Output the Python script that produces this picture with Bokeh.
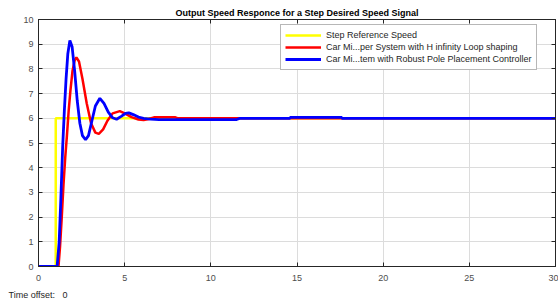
from bokeh.plotting import figure
from bokeh.models import LinearAxis, Range1d, Title, FixedTicker, Legend, LegendItem
from bokeh.embed import file_html
from bokeh.resources import INLINE

# Step reference
ref_t = [0, 1.0, 1.0, 30]
ref_y = [0, 0, 6, 6]

# H-infinity loop shaping response (red)
hinf_t = [0, 1.16, 1.25, 1.35, 1.45, 1.55, 1.65, 1.75, 1.85, 1.97, 2.1, 2.2, 2.35, 2.55, 2.8, 3.05,
          3.3, 3.5, 3.75, 4.0, 4.3, 4.72, 5.0, 5.4, 5.8, 6.1, 6.4, 6.7, 7.95, 8.1, 17.6, 30]
hinf_y = [0, 0, 0.8, 2.0, 3.3, 4.4, 5.3, 6.3, 7.1, 7.9, 8.35, 8.47, 8.3, 7.6, 6.6, 5.8,
          5.42, 5.37, 5.55, 5.9, 6.2, 6.29, 6.2, 6.05, 5.95, 5.93, 5.97, 6.04, 6.04, 6.0, 6.0, 6.0]

# Robust pole placement response (blue)
rpp_t = [0, 1.08, 1.2, 1.3, 1.4, 1.5, 1.6, 1.7, 1.82, 1.95, 2.1, 2.25, 2.4, 2.55, 2.73, 2.9, 3.1,
         3.3, 3.56, 3.8, 4.05, 4.3, 4.53, 4.8, 5.05, 5.24, 5.5, 5.8, 6.1, 6.5, 7.0, 11.5, 11.7,
         14.6, 14.6, 17.6, 17.6, 30]
rpp_y = [0, 0, 1.0, 2.8, 4.8, 6.3, 7.6, 8.6, 9.15, 8.9, 7.9, 6.7, 5.8, 5.3, 5.13, 5.3, 5.9,
         6.5, 6.81, 6.6, 6.25, 6.02, 5.96, 6.08, 6.2, 6.22, 6.15, 6.05, 6.0, 5.97, 5.95, 5.95, 6.0,
         6.0, 6.04, 6.04, 6.0, 6.0]

x_ticks = [0, 5, 10, 15, 20, 25, 30]
y_ticks = [0, 1, 2, 3, 4, 5, 6, 7, 8, 9, 10]

title_text = "Output Speed Responce for a Step Desired Speed Signal"
labels = ["Step Reference Speed",
          "Car Mi...per System with H infinity Loop shaping",
          "Car Mi...tem with Robust Pole Placement Controller"]
footer_text = "Time offset:\u00a0\u00a0\u00a00"

FONT = "Liberation Sans"
AXC = "#262626"
TXC = "#4d4d4d"

p = figure(width=558, height=305, output_backend="svg", toolbar_location=None,
           x_range=Range1d(0, 30), y_range=Range1d(0, 10),
           min_border_left=38, min_border_right=3, min_border_top=19, min_border_bottom=39)

p.title.text = title_text
p.title.text_font = FONT
p.title.text_font_size = "9px"
p.title.text_font_style = "bold"
p.title.align = "center"
p.title.standoff = 4
p.title.text_color = "#000000"

p.outline_line_color = AXC

for ax in (p.xaxis[0], p.yaxis[0]):
    ax.major_label_text_font = FONT
    ax.major_label_text_font_size = "9px"
    ax.major_label_text_color = TXC
    ax.axis_line_color = AXC
    ax.major_tick_line_color = AXC
    ax.major_tick_in = 4
    ax.major_tick_out = 0
    ax.minor_tick_line_color = None
p.xaxis[0].ticker = FixedTicker(ticks=x_ticks)
p.yaxis[0].ticker = FixedTicker(ticks=y_ticks)
p.xaxis[0].major_label_standoff = 8
p.yaxis[0].major_label_standoff = 5

top = LinearAxis(ticker=FixedTicker(ticks=x_ticks), major_label_text_font_size="1px",
                 major_label_text_alpha=0, major_tick_in=4, major_tick_out=0,
                 minor_tick_line_color=None, major_label_standoff=0,
                 axis_line_color=AXC, major_tick_line_color=AXC)
right = LinearAxis(ticker=FixedTicker(ticks=y_ticks), major_label_text_font_size="1px",
                   major_label_text_alpha=0, major_tick_in=4, major_tick_out=0,
                   minor_tick_line_color=None, major_label_standoff=0,
                   axis_line_color=AXC, major_tick_line_color=AXC)
p.add_layout(top, "above")
p.add_layout(right, "right")

p.xgrid.ticker = FixedTicker(ticks=x_ticks)
p.ygrid.ticker = FixedTicker(ticks=y_ticks)
p.grid.grid_line_color = "#dcdcdc"
p.grid.grid_line_width = 1

r_ref = p.line(ref_t, ref_y, line_color="#ffff00", line_width=2.5)
r_hinf = p.line(hinf_t, hinf_y, line_color="#ff0000", line_width=2.5)
r_rpp = p.line(rpp_t, rpp_y, line_color="#0000ff", line_width=2.8)

legend = Legend(items=[LegendItem(label=labels[0], renderers=[r_ref]),
                       LegendItem(label=labels[1], renderers=[r_hinf]),
                       LegendItem(label=labels[2], renderers=[r_rpp])],
                location=(242, 196), margin=0, padding=4, spacing=0,
                label_height=12, glyph_height=12, glyph_width=36, label_standoff=5,
                label_text_font=FONT, label_text_font_size="9px", label_text_color="#262626",
                border_line_color="#707070", border_line_width=1,
                background_fill_color="#ffffff", background_fill_alpha=1)
p.add_layout(legend, "center")

footer = Title(text=footer_text, align="left", offset=-30, standoff=9,
               text_font=FONT, text_font_size="9px", text_font_style="normal",
               text_color="#262626")
p.add_layout(footer, "below")

open("out.html", "w").write(file_html(p, INLINE))
